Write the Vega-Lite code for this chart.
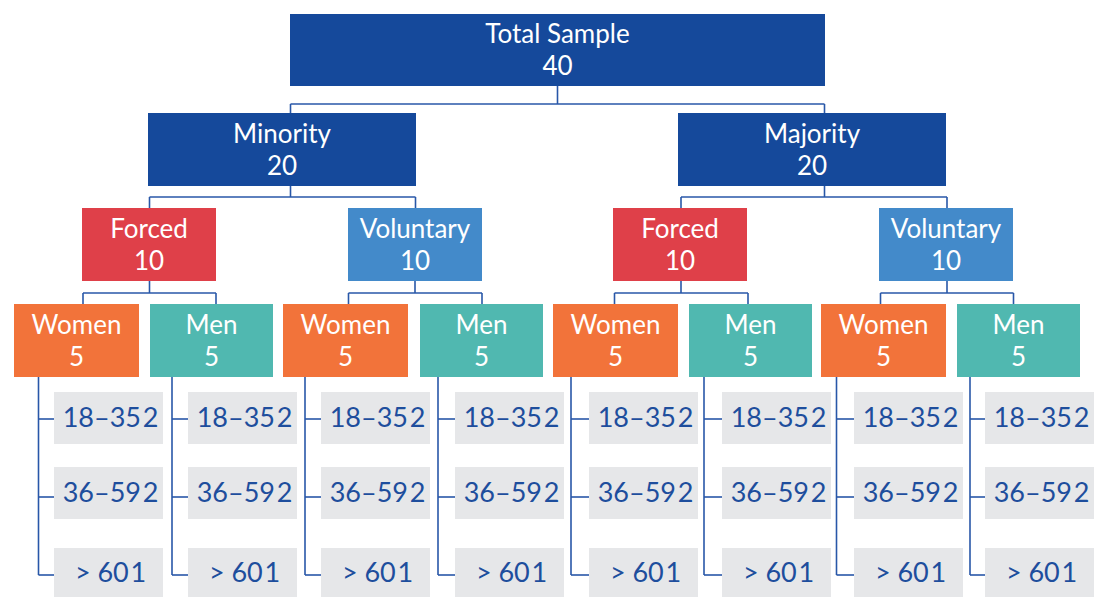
{
  "$schema": "https://vega.github.io/schema/vega-lite/v6.json",
  "width": 1100,
  "height": 597,
  "autosize": {"type": "none"},
  "padding": 0,
  "background": "white",
  "config": {"view": {"stroke": null}},
  "datasets": {
    "nodes": [
      {"id": "Total", "type": "sample", "name": "Total Sample", "n": "40", "x0": 290, "x1": 825, "y0": 14, "y1": 86},
      {"id": "Minority", "type": "sample", "name": "Minority", "n": "20", "x0": 148, "x1": 416, "y0": 113, "y1": 186},
      {"id": "Majority", "type": "sample", "name": "Majority", "n": "20", "x0": 678, "x1": 946, "y0": 113, "y1": 186},
      {"id": "MinF", "type": "forced", "name": "Forced", "n": "10", "x0": 82, "x1": 216, "y0": 208, "y1": 281},
      {"id": "MinV", "type": "voluntary", "name": "Voluntary", "n": "10", "x0": 348, "x1": 482, "y0": 208, "y1": 281},
      {"id": "MajF", "type": "forced", "name": "Forced", "n": "10", "x0": 613, "x1": 747, "y0": 208, "y1": 281},
      {"id": "MajV", "type": "voluntary", "name": "Voluntary", "n": "10", "x0": 879, "x1": 1013, "y0": 208, "y1": 281},
      {"id": "W1", "type": "women", "name": "Women", "n": "5", "x0": 14, "x1": 139, "y0": 304, "y1": 377},
      {"id": "M1", "type": "men", "name": "Men", "n": "5", "x0": 150, "x1": 273, "y0": 304, "y1": 377},
      {"id": "W2", "type": "women", "name": "Women", "n": "5", "x0": 283, "x1": 408, "y0": 304, "y1": 377},
      {"id": "M2", "type": "men", "name": "Men", "n": "5", "x0": 420, "x1": 543, "y0": 304, "y1": 377},
      {"id": "W3", "type": "women", "name": "Women", "n": "5", "x0": 553, "x1": 678, "y0": 304, "y1": 377},
      {"id": "M3", "type": "men", "name": "Men", "n": "5", "x0": 689, "x1": 812, "y0": 304, "y1": 377},
      {"id": "W4", "type": "women", "name": "Women", "n": "5", "x0": 821, "x1": 946, "y0": 304, "y1": 377},
      {"id": "M4", "type": "men", "name": "Men", "n": "5", "x0": 957, "x1": 1080, "y0": 304, "y1": 377}
    ],
    "ages": [
      {"parent": "W1", "age": "18–35\u200a2", "x0": 54, "x1": 163, "y0": 392, "y1": 444},
      {"parent": "W1", "age": "36–59\u200a2", "x0": 54, "x1": 163, "y0": 467, "y1": 519},
      {"parent": "W1", "age": "> 60\u200a1", "x0": 54, "x1": 163, "y0": 548, "y1": 597},
      {"parent": "M1", "age": "18–35\u200a2", "x0": 188, "x1": 297, "y0": 392, "y1": 444},
      {"parent": "M1", "age": "36–59\u200a2", "x0": 188, "x1": 297, "y0": 467, "y1": 519},
      {"parent": "M1", "age": "> 60\u200a1", "x0": 188, "x1": 297, "y0": 548, "y1": 597},
      {"parent": "W2", "age": "18–35\u200a2", "x0": 321, "x1": 430, "y0": 392, "y1": 444},
      {"parent": "W2", "age": "36–59\u200a2", "x0": 321, "x1": 430, "y0": 467, "y1": 519},
      {"parent": "W2", "age": "> 60\u200a1", "x0": 321, "x1": 430, "y0": 548, "y1": 597},
      {"parent": "M2", "age": "18–35\u200a2", "x0": 455, "x1": 564, "y0": 392, "y1": 444},
      {"parent": "M2", "age": "36–59\u200a2", "x0": 455, "x1": 564, "y0": 467, "y1": 519},
      {"parent": "M2", "age": "> 60\u200a1", "x0": 455, "x1": 564, "y0": 548, "y1": 597},
      {"parent": "W3", "age": "18–35\u200a2", "x0": 589, "x1": 698, "y0": 392, "y1": 444},
      {"parent": "W3", "age": "36–59\u200a2", "x0": 589, "x1": 698, "y0": 467, "y1": 519},
      {"parent": "W3", "age": "> 60\u200a1", "x0": 589, "x1": 698, "y0": 548, "y1": 597},
      {"parent": "M3", "age": "18–35\u200a2", "x0": 722, "x1": 831, "y0": 392, "y1": 444},
      {"parent": "M3", "age": "36–59\u200a2", "x0": 722, "x1": 831, "y0": 467, "y1": 519},
      {"parent": "M3", "age": "> 60\u200a1", "x0": 722, "x1": 831, "y0": 548, "y1": 597},
      {"parent": "W4", "age": "18–35\u200a2", "x0": 854, "x1": 963, "y0": 392, "y1": 444},
      {"parent": "W4", "age": "36–59\u200a2", "x0": 854, "x1": 963, "y0": 467, "y1": 519},
      {"parent": "W4", "age": "> 60\u200a1", "x0": 854, "x1": 963, "y0": 548, "y1": 597},
      {"parent": "M4", "age": "18–35\u200a2", "x0": 985, "x1": 1094, "y0": 392, "y1": 444},
      {"parent": "M4", "age": "36–59\u200a2", "x0": 985, "x1": 1094, "y0": 467, "y1": 519},
      {"parent": "M4", "age": "> 60\u200a1", "x0": 985, "x1": 1094, "y0": 548, "y1": 597}
    ],
    "links": [
      {"x0": 557.5, "x1": 557.5, "y0": 86, "y1": 104},
      {"x0": 290.5, "x1": 824.5, "y0": 104, "y1": 104},
      {"x0": 290.5, "x1": 290.5, "y0": 104, "y1": 113},
      {"x0": 824.5, "x1": 824.5, "y0": 104, "y1": 113},
      {"x0": 290.5, "x1": 290.5, "y0": 186, "y1": 197},
      {"x0": 149.5, "x1": 415.5, "y0": 197, "y1": 197},
      {"x0": 149.5, "x1": 149.5, "y0": 197, "y1": 208},
      {"x0": 415.5, "x1": 415.5, "y0": 197, "y1": 208},
      {"x0": 824.5, "x1": 824.5, "y0": 186, "y1": 197},
      {"x0": 681, "x1": 947, "y0": 197, "y1": 197},
      {"x0": 681, "x1": 681, "y0": 197, "y1": 208},
      {"x0": 947, "x1": 947, "y0": 197, "y1": 208},
      {"x0": 149.5, "x1": 149.5, "y0": 281, "y1": 293},
      {"x0": 83, "x1": 216, "y0": 293, "y1": 293},
      {"x0": 83, "x1": 83, "y0": 293, "y1": 304},
      {"x0": 216, "x1": 216, "y0": 293, "y1": 304},
      {"x0": 415, "x1": 415, "y0": 281, "y1": 293},
      {"x0": 348.5, "x1": 482, "y0": 293, "y1": 293},
      {"x0": 348.5, "x1": 348.5, "y0": 293, "y1": 304},
      {"x0": 482, "x1": 482, "y0": 293, "y1": 304},
      {"x0": 681, "x1": 681, "y0": 281, "y1": 293},
      {"x0": 614.5, "x1": 748, "y0": 293, "y1": 293},
      {"x0": 614.5, "x1": 614.5, "y0": 293, "y1": 304},
      {"x0": 748, "x1": 748, "y0": 293, "y1": 304},
      {"x0": 947, "x1": 947, "y0": 281, "y1": 293},
      {"x0": 880.5, "x1": 1013.5, "y0": 293, "y1": 293},
      {"x0": 880.5, "x1": 880.5, "y0": 293, "y1": 304},
      {"x0": 1013.5, "x1": 1013.5, "y0": 293, "y1": 304},
      {"x0": 38.5, "x1": 38.5, "y0": 377, "y1": 575},
      {"x0": 38.5, "x1": 54, "y0": 419, "y1": 419},
      {"x0": 38.5, "x1": 54, "y0": 497, "y1": 497},
      {"x0": 38.5, "x1": 54, "y0": 575, "y1": 575},
      {"x0": 172, "x1": 172, "y0": 377, "y1": 575},
      {"x0": 172, "x1": 188, "y0": 419, "y1": 419},
      {"x0": 172, "x1": 188, "y0": 497, "y1": 497},
      {"x0": 172, "x1": 188, "y0": 575, "y1": 575},
      {"x0": 305, "x1": 305, "y0": 377, "y1": 575},
      {"x0": 305, "x1": 321, "y0": 419, "y1": 419},
      {"x0": 305, "x1": 321, "y0": 497, "y1": 497},
      {"x0": 305, "x1": 321, "y0": 575, "y1": 575},
      {"x0": 438, "x1": 438, "y0": 377, "y1": 575},
      {"x0": 438, "x1": 455, "y0": 419, "y1": 419},
      {"x0": 438, "x1": 455, "y0": 497, "y1": 497},
      {"x0": 438, "x1": 455, "y0": 575, "y1": 575},
      {"x0": 571, "x1": 571, "y0": 377, "y1": 575},
      {"x0": 571, "x1": 589, "y0": 419, "y1": 419},
      {"x0": 571, "x1": 589, "y0": 497, "y1": 497},
      {"x0": 571, "x1": 589, "y0": 575, "y1": 575},
      {"x0": 704, "x1": 704, "y0": 377, "y1": 575},
      {"x0": 704, "x1": 722, "y0": 419, "y1": 419},
      {"x0": 704, "x1": 722, "y0": 497, "y1": 497},
      {"x0": 704, "x1": 722, "y0": 575, "y1": 575},
      {"x0": 836.5, "x1": 836.5, "y0": 377, "y1": 575},
      {"x0": 836.5, "x1": 854, "y0": 419, "y1": 419},
      {"x0": 836.5, "x1": 854, "y0": 497, "y1": 497},
      {"x0": 836.5, "x1": 854, "y0": 575, "y1": 575},
      {"x0": 970, "x1": 970, "y0": 377, "y1": 575},
      {"x0": 970, "x1": 985, "y0": 419, "y1": 419},
      {"x0": 970, "x1": 985, "y0": 497, "y1": 497},
      {"x0": 970, "x1": 985, "y0": 575, "y1": 575}
    ]
  },
  "layer": [
    {
      "data": {"name": "links"},
      "mark": {"type": "rule", "color": "#2857A8", "strokeWidth": 1.6},
      "encoding": {
        "x": {"field": "x0", "type": "quantitative", "scale": {"domain": [0, 1100], "nice": false, "zero": false}, "axis": null},
        "x2": {"field": "x1"},
        "y": {"field": "y0", "type": "quantitative", "scale": {"domain": [0, 597], "nice": false, "zero": false, "reverse": true}, "axis": null},
        "y2": {"field": "y1"}
      }
    },
    {
      "data": {"name": "nodes"},
      "mark": {"type": "rect"},
      "encoding": {
        "x": {"field": "x0", "type": "quantitative", "scale": {"domain": [0, 1100], "nice": false, "zero": false}, "axis": null},
        "x2": {"field": "x1"},
        "y": {"field": "y0", "type": "quantitative", "scale": {"domain": [0, 597], "nice": false, "zero": false, "reverse": true}, "axis": null},
        "y2": {"field": "y1"},
        "color": {"field": "type", "type": "nominal", "legend": null,
          "scale": {"domain": ["sample", "forced", "voluntary", "women", "men"],
                    "range": ["#15499B", "#DF4049", "#438ACA", "#F2733A", "#50B8B0"]}}
      }
    },
    {
      "data": {"name": "nodes"},
      "transform": [{"calculate": "(datum.x0 + datum.x1) / 2", "as": "cx"}, {"calculate": "(datum.y0 + datum.y1) / 2", "as": "cy"}],
      "mark": {"type": "text", "color": "white", "font": "Lato", "fontSize": 26, "baseline": "middle", "align": "center", "dy": -15},
      "encoding": {
        "x": {"field": "cx", "type": "quantitative", "scale": {"domain": [0, 1100], "nice": false, "zero": false}, "axis": null},
        "y": {"field": "cy", "type": "quantitative", "scale": {"domain": [0, 597], "nice": false, "zero": false, "reverse": true}, "axis": null},
        "text": {"field": "name"}
      }
    },
    {
      "data": {"name": "nodes"},
      "transform": [{"calculate": "(datum.x0 + datum.x1) / 2", "as": "cx"}, {"calculate": "(datum.y0 + datum.y1) / 2", "as": "cy"}],
      "mark": {"type": "text", "color": "white", "font": "Lato", "fontSize": 26, "baseline": "middle", "align": "center", "dy": 17},
      "encoding": {
        "x": {"field": "cx", "type": "quantitative", "scale": {"domain": [0, 1100], "nice": false, "zero": false}, "axis": null},
        "y": {"field": "cy", "type": "quantitative", "scale": {"domain": [0, 597], "nice": false, "zero": false, "reverse": true}, "axis": null},
        "text": {"field": "n"}
      }
    },
    {
      "data": {"name": "ages"},
      "mark": {"type": "rect", "color": "#E6E7E9"},
      "encoding": {
        "x": {"field": "x0", "type": "quantitative", "scale": {"domain": [0, 1100], "nice": false, "zero": false}, "axis": null},
        "x2": {"field": "x1"},
        "y": {"field": "y0", "type": "quantitative", "scale": {"domain": [0, 597], "nice": false, "zero": false, "reverse": true}, "axis": null},
        "y2": {"field": "y1"}
      }
    },
    {
      "data": {"name": "ages"},
      "transform": [{"calculate": "(datum.x0 + datum.x1) / 2", "as": "cx"}, {"calculate": "(datum.y0 + datum.y1) / 2", "as": "cy"}],
      "mark": {"type": "text", "color": "#1E4E9D", "font": "Lato", "fontSize": 27, "baseline": "middle", "align": "center", "dx": 2, "dy": 1},
      "encoding": {
        "x": {"field": "cx", "type": "quantitative", "scale": {"domain": [0, 1100], "nice": false, "zero": false}, "axis": null},
        "y": {"field": "cy", "type": "quantitative", "scale": {"domain": [0, 597], "nice": false, "zero": false, "reverse": true}, "axis": null},
        "text": {"field": "age"}
      }
    }
  ]
}
